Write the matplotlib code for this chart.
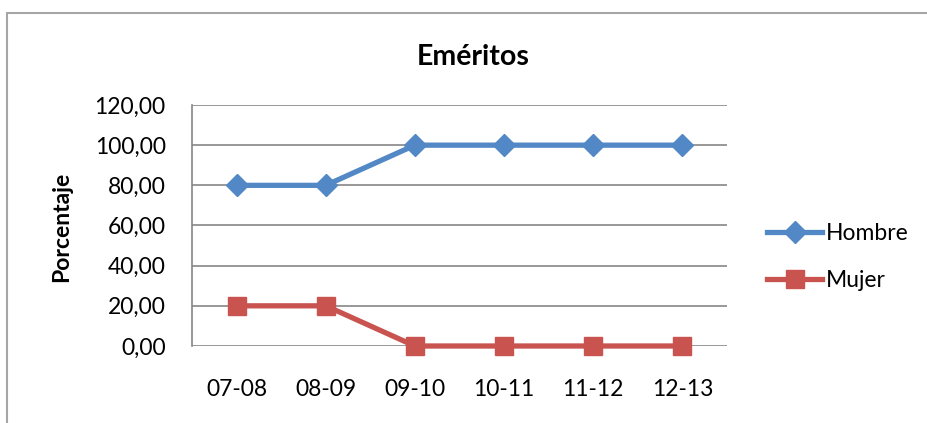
import matplotlib
matplotlib.use("Agg")
import matplotlib.pyplot as plt
from matplotlib.patches import Rectangle

periods = ["07-08", "08-09", "09-10", "10-11", "11-12", "12-13"]
hombre = [80, 80, 100, 100, 100, 100]
mujer = [20, 20, 0, 0, 0, 0]
yticks = [0, 20, 40, 60, 80, 100, 120]

plt.rcParams['font.family'] = ['Lato', 'DejaVu Sans']

W, H = 927, 423
fig = plt.figure(figsize=(W / 100, H / 100), dpi=100)

# chart frame (partially cut at right and bottom)
fig.patches.append(Rectangle((7 / W, -0.1), 1.2, (H - 13) / H + 0.1,
                             transform=fig.transFigure, fill=False,
                             edgecolor="#a6a6a6", linewidth=1.5))

ax = fig.add_axes([192 / W, (H - 346) / H, (727 - 192) / W, (346 - 105) / H])

blue = "#5288C5"
red = "#C9534F"
x = list(range(len(periods)))
ax.plot(x, hombre, color=blue, linewidth=3.8, marker="D", markersize=11,
        label="Hombre", zorder=3, clip_on=False)
ax.plot(x, mujer, color=red, linewidth=3.8, marker="s", markersize=12.5,
        label="Mujer", zorder=3, clip_on=False)

ax.set_xlim(-0.5, len(periods) - 0.5)
ax.set_ylim(0, 120)
ax.set_yticks(yticks)
ax.set_yticklabels([f"{v:.2f}".replace(".", ",") for v in yticks], fontsize=16.5)
ax.set_xticks(x)
ax.set_xticklabels(periods, fontsize=16.5)
ax.tick_params(length=0)
ax.tick_params(axis='y', pad=19)
ax.tick_params(axis='x', pad=24)
ax.grid(axis='y', color="#868686", linewidth=1.2)
ax.set_axisbelow(True)
for s in ["top", "right", "bottom"]:
    ax.spines[s].set_visible(False)
ax.spines["left"].set_color("#868686")
ax.spines["left"].set_linewidth(1.2)

fig.text(62 / W, 1 - 227 / H, "Porcentaje", ha="center", va="center",
         rotation=90, fontsize=16.5, fontweight="bold")
fig.text(473 / W, 1 - 57 / H, "Eméritos", ha="center", va="center",
         fontsize=20.5, fontweight="bold")

leg = ax.legend(loc="center left", bbox_to_anchor=(767 / W, 1 - 257 / H),
                bbox_transform=fig.transFigure, frameon=False, fontsize=16.5,
                borderpad=0, borderaxespad=0,
                handlelength=2.4, handletextpad=0.15, labelspacing=1.15)

fig.savefig("out.png", dpi=100)
